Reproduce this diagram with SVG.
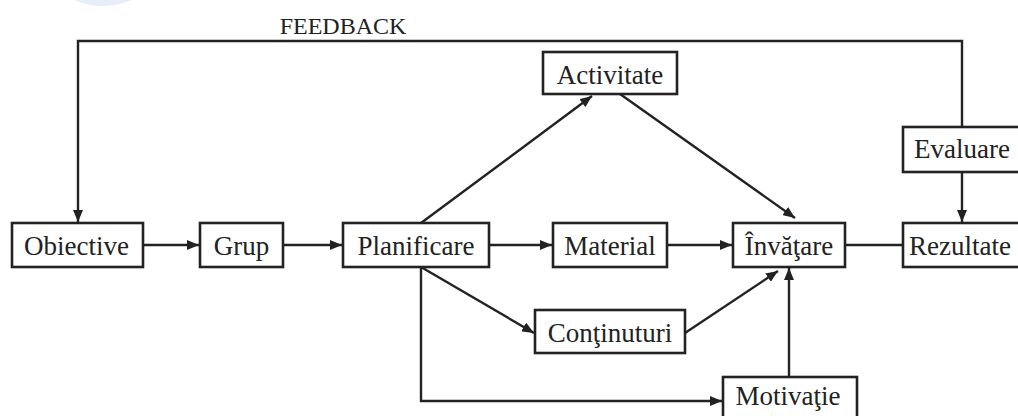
<svg xmlns="http://www.w3.org/2000/svg" width="1018" height="416" viewBox="0 0 1018 416">
  <style>
    .box { fill: #ffffff; stroke: #222222; stroke-width: 2.6; }
    .lbl { font-family: "Liberation Serif", "Times New Roman", serif; font-size: 27px; fill: #222222; text-anchor: middle; }
    .head { font-family: "Liberation Serif", "Times New Roman", serif; font-size: 24px; fill: #222222; text-anchor: middle; }
    .wire { fill: none; stroke: #222222; stroke-width: 2.4; }
  </style>
  <defs>
    <marker id="arrow" markerUnits="userSpaceOnUse" markerWidth="13" markerHeight="10" refX="12" refY="5" orient="auto">
      <path d="M0,0 L12,5 L0,10 z" fill="#222222"/>
    </marker>
  </defs>

  <rect width="1018" height="416" fill="#ffffff"/>
  <!-- pale decorative disc at the top edge -->
  <circle cx="103" cy="-64" r="70" fill="#e7eef8"/>

  <text class="head" x="343" y="34">FEEDBACK</text>

  <g id="connectors">
    <path class="wire" d="M962,127 V41 H78 V222" marker-end="url(#arrow)"/>
    <path class="wire" d="M962,172 V222" marker-end="url(#arrow)"/>
    <path class="wire" d="M143,245 H199" marker-end="url(#arrow)"/>
    <path class="wire" d="M283,245 H342" marker-end="url(#arrow)"/>
    <path class="wire" d="M489,245 H552" marker-end="url(#arrow)"/>
    <path class="wire" d="M667,245 H732" marker-end="url(#arrow)"/>
    <path class="wire" d="M845,245 H903"/>
    <path class="wire" d="M421,223 L592,96" marker-end="url(#arrow)"/>
    <path class="wire" d="M620,94 L795,218" marker-end="url(#arrow)"/>
    <path class="wire" d="M421,267 L534,333" marker-end="url(#arrow)"/>
    <path class="wire" d="M685,333 L778,271" marker-end="url(#arrow)"/>
    <path class="wire" d="M421,267 V401 H722" marker-end="url(#arrow)"/>
    <path class="wire" d="M789,377 V268" marker-end="url(#arrow)"/>
  </g>

  <g id="obiective">
    <rect class="box" x="12" y="223" width="131" height="44"/>
    <text class="lbl" x="76.5" y="255">Obiective</text>
  </g>
  <g id="grup">
    <rect class="box" x="200" y="223" width="83" height="44"/>
    <text class="lbl" x="241.5" y="255">Grup</text>
  </g>
  <g id="planificare">
    <rect class="box" x="343" y="223" width="146" height="44"/>
    <text class="lbl" x="416" y="255">Planificare</text>
  </g>
  <g id="activitate">
    <rect class="box" x="543" y="52" width="134" height="42"/>
    <text class="lbl" x="610" y="84">Activitate</text>
  </g>
  <g id="material">
    <rect class="box" x="553" y="223" width="114" height="44"/>
    <text class="lbl" x="610" y="255">Material</text>
  </g>
  <g id="continuturi">
    <rect class="box" x="535" y="310" width="150" height="43"/>
    <text class="lbl" x="610" y="342">Conţinuturi</text>
  </g>
  <g id="invatare">
    <rect class="box" x="733" y="223" width="112" height="44"/>
    <text class="lbl" x="789" y="255">Învăţare</text>
  </g>
  <g id="motivatie">
    <rect class="box" x="723" y="377" width="134" height="50"/>
    <text class="lbl" x="788" y="405">Motivaţie</text>
  </g>
  <g id="evaluare">
    <rect class="box" x="903" y="127" width="125" height="45"/>
    <text class="lbl" x="962" y="158">Evaluare</text>
  </g>
  <g id="rezultate">
    <rect class="box" x="903" y="223" width="125" height="44"/>
    <text class="lbl" x="960" y="255">Rezultate</text>
  </g>
</svg>
